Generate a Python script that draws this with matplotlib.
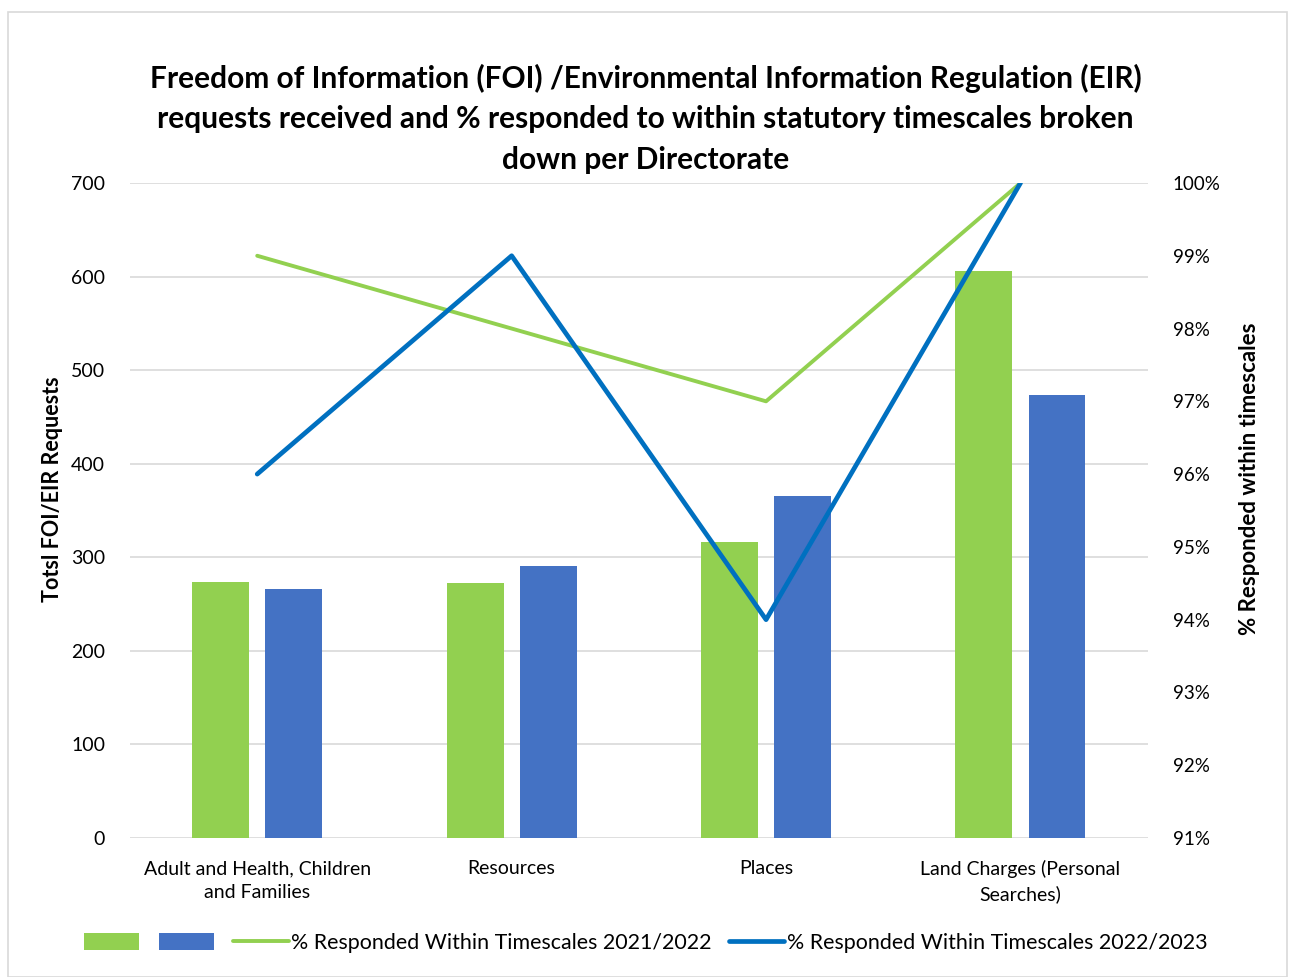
import matplotlib.pyplot as plt
from matplotlib.patches import Rectangle
from matplotlib.ticker import FuncFormatter
import numpy as np

plt.rcParams['font.family'] = ['Lato', 'DejaVu Sans']

categories = ["Adult and Health, Children\nand Families", "Resources", "Places",
              "Land Charges (Personal\nSearches)"]
requests_2122 = [274, 272, 316, 606]
requests_2223 = [266, 291, 366, 473]
pct_2122 = [99, 98, 97, 100]
pct_2223 = [96, 99, 94, 100]

green = '#92D050'
blue_bar = '#4472C4'
blue_line = '#0070C0'

fig = plt.figure(figsize=(12.91, 9.77), dpi=100)
ax = fig.add_axes([0.1007, 0.1423, 0.7883, 0.6704])
x = np.arange(len(categories))
w = 0.224
b1 = ax.bar(x - 0.1435, requests_2122, w, color=green, zorder=2)
b2 = ax.bar(x + 0.1435, requests_2223, w, color=blue_bar, zorder=2)
ax.set_xlim(-0.5, 3.5)
ax.set_ylim(0, 700)
ax.set_yticks(range(0, 701, 100))
ax.grid(axis='y', color='#d9d9d9', lw=1.2, zorder=0)
for s in ax.spines.values():
    s.set_visible(False)
ax.tick_params(axis='both', length=0, labelsize=14, colors='#000000')
ax.tick_params(axis='x', pad=16)
ax.tick_params(axis='y', pad=18)
ax.set_xticks(x)
ax.set_xticklabels(categories, linespacing=1.5)
ax.set_ylabel('Totsl FOI/EIR Requests', fontsize=15.5, fontweight='bold')
ax.yaxis.set_label_coords(-0.066, 0.533)

ax2 = ax.twinx()
l1, = ax2.plot(x, pct_2122, color=green, lw=2.8, solid_capstyle='round', zorder=3)
l2, = ax2.plot(x, pct_2223, color=blue_line, lw=3.4, solid_capstyle='round', zorder=3)
ax2.set_ylim(91, 100)
ax2.set_yticks(range(91, 101))
ax2.yaxis.set_major_formatter(FuncFormatter(lambda v, p: f'{int(v)}%'))
for s in ax2.spines.values():
    s.set_visible(False)
ax2.tick_params(axis='y', length=0, labelsize=13.5, pad=18)
ax2.set_ylabel('% Responded within timescales', fontsize=16, fontweight='bold')
ax2.yaxis.set_label_coords(1.090, 0.548)

fig.text(0.5, 0.822, 'Freedom of Information (FOI) /Environmental Information Regulation (EIR)\n'
         'requests received and % responded to within statutory timescales broken\n'
         'down per Directorate', ha='center', va='bottom', fontsize=21.5,
         fontweight='bold', linespacing=1.55)

fig.legend([b1, b2, l1, l2], ['', '', '% Responded Within Timescales 2021/2022',
           '% Responded Within Timescales 2022/2023'], loc='center',
           bbox_to_anchor=(0.5, 0.035), ncol=4, frameon=False, fontsize=15.4,
           handlelength=2.6, handleheight=0.8, columnspacing=0.8, handletextpad=0.1)

fig.patches.append(Rectangle((8 / 1291, 0), 1279 / 1291, 1 - 12 / 977,
                             transform=fig.transFigure, fill=False,
                             edgecolor='#d9d9d9', lw=1.2))

fig.savefig('out.png', dpi=100)
